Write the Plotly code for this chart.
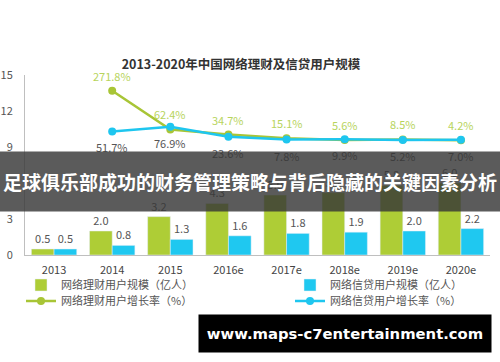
import plotly.graph_objects as go

# ---- data ----
years = ["2013", "2014", "2015", "2016e", "2017e", "2018e", "2019e", "2020e"]
wealth_users = [0.5, 2.0, 3.2, 4.3, 5.0, 5.2, 5.8, 6.0]      # 网络理财用户规模（亿人）
credit_users = [0.5, 0.8, 1.3, 1.6, 1.8, 1.9, 2.0, 2.2]      # 网络信贷用户规模（亿人）
rate_years = ["2014", "2015", "2016e", "2017e", "2018e", "2019e", "2020e"]
wealth_growth = [271.8, 62.4, 34.7, 15.1, 5.6, 8.5, 4.2]     # 网络理财用户增长率（%）
credit_growth = [51.7, 76.9, 23.6, 7.8, 9.9, 5.2, 7.0]       # 网络信贷用户增长率（%）
y_ticks = [0, 3, 6, 9, 12, 15]

title_text = "2013-2020年中国网络理财及信贷用户规模"
banner_text = "足球俱乐部成功的财务管理策略与背后隐藏的关键因素分析"
watermark_text = "www.maps-c7entertainment.com"
legend_names = ["网络理财用户规模（亿人）", "网络信贷用户规模（亿人）",
                "网络理财用户增长率（%）", "网络信贷用户增长率（%）"]

# category positions on the x axis
x_pos = list(range(len(years)))
rate_pos = [years.index(y) for y in rate_years]

# ---- styling ----
W, H = 500, 362
ML, MR, MT, MB = 25, 10, 75, 107
PW, PH = W - ML - MR, H - MT - MB
FONT = "Noto Sans CJK SC"
GREEN_BAR, CYAN_BAR = "#aecd36", "#1fc8f0"
GREEN_LINE, CYAN_LINE = "#a8c536", "#1ec6ef"


def px_x(px):
    return (px - ML) / PW


def px_y(py):
    return (H - MB - py) / PH


fig = go.Figure()
fig.add_trace(go.Bar(x=x_pos, y=wealth_users, name=legend_names[0], marker_color=GREEN_BAR,
                     text=[f"{v:.1f}" for v in wealth_users], textposition="outside",
                     textfont=dict(size=11, color="#555555", family=FONT),
                     cliponaxis=False, legend="legend"))
fig.add_trace(go.Bar(x=x_pos, y=credit_users, name=legend_names[1], marker_color=CYAN_BAR,
                     text=[f"{v:.1f}" for v in credit_users], textposition="outside",
                     textfont=dict(size=11, color="#555555", family=FONT),
                     cliponaxis=False, legend="legend2"))
fig.add_trace(go.Scatter(x=rate_pos, y=wealth_growth, name=legend_names[2], yaxis="y2",
                         mode="lines+markers", line=dict(color=GREEN_LINE, width=2.5),
                         marker=dict(size=8, color=GREEN_LINE), cliponaxis=False, legend="legend3"))
fig.add_trace(go.Scatter(x=rate_pos, y=credit_growth, name=legend_names[3], yaxis="y2",
                         mode="lines+markers", line=dict(color=CYAN_LINE, width=2.5),
                         marker=dict(size=8, color=CYAN_LINE), cliponaxis=False, legend="legend4"))

annotations = []
for x, v in zip(rate_pos, wealth_growth):
    annotations.append(dict(x=x, y=v, xref="x", yref="y2", text=f"{v}%", showarrow=False,
                            yshift=15, font=dict(size=11, color="#b7d45c", family=FONT)))
for x, v in zip(rate_pos, credit_growth):
    annotations.append(dict(x=x, y=v, xref="x", yref="y2", text=f"{v}%", showarrow=False,
                            yshift=-16, font=dict(size=11, color="#555555", family=FONT)))

# banner overlay
annotations.append(dict(xref="paper", yref="paper", x=px_x(250), y=px_y(181.5),
                        xanchor="center", yanchor="middle", showarrow=False,
                        width=W, height=59, bgcolor="rgba(55,55,55,0.82)", borderpad=0,
                        text=banner_text,
                        font=dict(size=19, color="white", family=FONT, weight=700)))
# watermark
annotations.append(dict(xref="paper", yref="paper", x=px_x(345), y=px_y(333.5),
                        xanchor="center", yanchor="middle", showarrow=False,
                        width=292, height=37, bgcolor="black", borderpad=0,
                        text=watermark_text,
                        font=dict(size=14.8, color="white", family="DejaVu Sans", weight=700)))

leg_common = dict(xref="container", yref="container", xanchor="left", yanchor="middle",
                  bgcolor="rgba(0,0,0,0)", font=dict(size=11, color="#555555", family=FONT))
row1, row2 = 1 - 285 / H, 1 - 301 / H
col1, col2 = 21 / W, 290 / W

fig.update_layout(
    width=W, height=H,
    margin=dict(l=ML, r=MR, t=MT, b=MB, autoexpand=False),
    paper_bgcolor="white", plot_bgcolor="white",
    font=dict(family=FONT, size=11, color="#555555"),
    title=dict(text=title_text, x=241 / W, y=1 - 65 / H, xref="container", yref="container",
               xanchor="center", yanchor="middle",
               font=dict(size=12.5, color="#333333", family=FONT, weight=700)),
    barmode="group", bargap=0.22, bargroupgap=0,
    xaxis=dict(range=[-0.5, len(years) - 0.5], tickvals=x_pos, ticktext=years,
               showline=True, linecolor="#bfbfbf", linewidth=1, showgrid=False, zeroline=False,
               ticks="", tickfont=dict(size=11, color="#444444"), ticklabelstandoff=5),
    yaxis=dict(range=[0, 15], tickvals=y_ticks, showline=True, linecolor="#bfbfbf", linewidth=1,
               showgrid=False, zeroline=False, ticks="", ticklabelstandoff=9,
               tickfont=dict(size=11, color="#555555")),
    yaxis2=dict(overlaying="y", range=[-616.2, 356.8], visible=False),
    annotations=annotations,
    legend=dict(x=col1, y=row1, **leg_common),
    legend2=dict(x=col2, y=row1, **leg_common),
    legend3=dict(x=col1, y=row2, **leg_common),
    legend4=dict(x=col2, y=row2, **leg_common),
    showlegend=True,
)

fig.write_html("out.html", config={"displayModeBar": False},
               post_script="document.body.style.margin='0';")
